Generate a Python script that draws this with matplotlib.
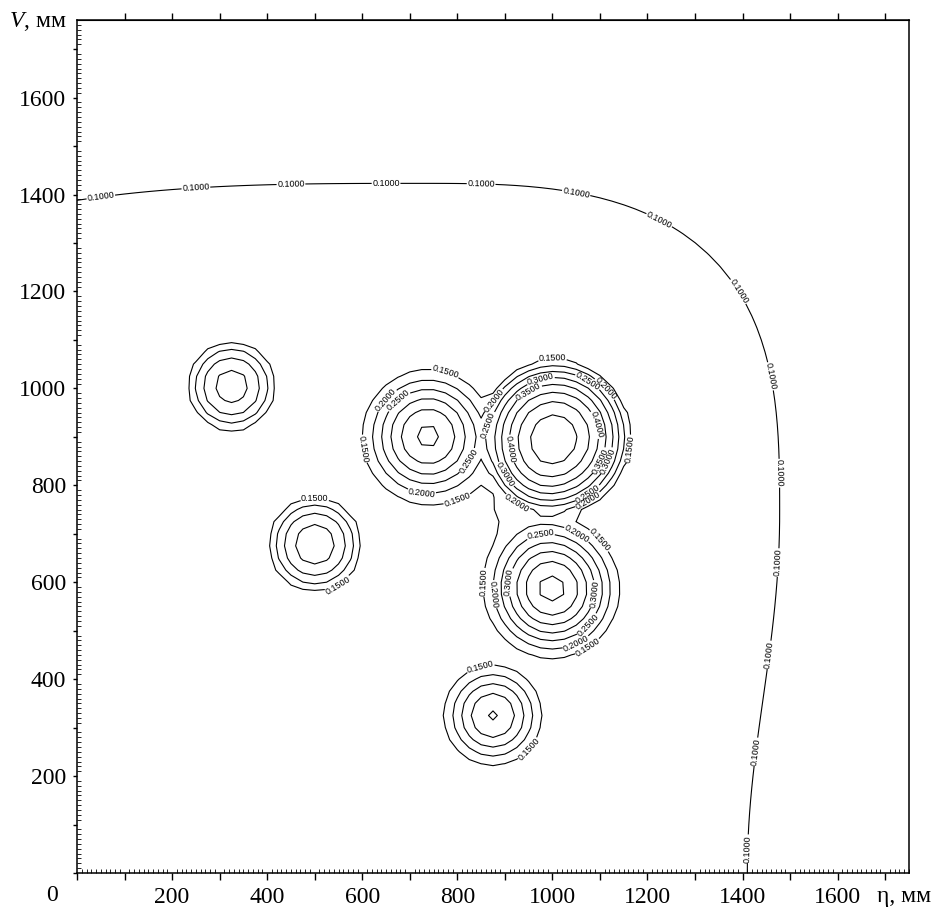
import numpy as np
import matplotlib
matplotlib.use("Agg")
import matplotlib.pyplot as plt

plt.rcParams['font.family'] = ['Liberation Serif', 'DejaVu Serif']
plt.rcParams['mathtext.fontset'] = 'custom'
plt.rcParams['mathtext.it'] = 'Liberation Serif:italic'
plt.rcParams['mathtext.rm'] = 'Liberation Serif'

# sources (peaks)
peak_x = [325, 500, 738, 1005, 1000, 875]
peak_y = [1005, 678, 902, 900, 585, 325]
peak_amp = [0.215, 0.22, 0.297, 0.42, 0.353, 0.244]
peak_radius = [100, 104, 170, 166, 173, 132]
peak_power = [1, 1, 2, 1, 2, 2]

# low shoulder joining the three central sources
shoulder_x, shoulder_y = 935, 755
shoulder_amp, shoulder_width = 0.045, 110

# outer plateau, edge at the 0.1 line
edge_cx, edge_cy = 720, 742
edge_left, edge_right, edge_top = 1366, 758, 681
edge_bottom = 0.414
plateau_base, plateau_rise = 0.10, 0.02

levels = [0.10, 0.15, 0.20, 0.25, 0.30, 0.35, 0.40, 0.45, 0.50]
x_ticks = list(range(0, 1701, 100))
y_ticks = list(range(0, 1701, 100))

# measuring grid
step = 25
xs = np.arange(0, 1751, step)
ys = np.arange(0, 1751, step)
X, Y = np.meshgrid(xs, ys)

u = np.where(X < edge_cx, (edge_cx - X) / edge_left, (X - edge_cx) / edge_right)
v_top = np.abs(Y - edge_cy) / edge_top
v_bot = edge_bottom * np.sin(np.pi / 2 * (edge_cy - Y) / edge_cy)
R = np.where(Y >= edge_cy, (u**3 + v_top**3) ** (1 / 3), np.sqrt(u**2 + v_bot**2))
Z = plateau_base + plateau_rise * (1 - R)
Z += shoulder_amp * np.exp(-((X - shoulder_x)**2 + (Y - shoulder_y)**2) / shoulder_width**2)

sq = np.zeros_like(Z, dtype=float)
for px, py, a, s, q in zip(peak_x, peak_y, peak_amp, peak_radius, peak_power):
    r = np.hypot(X - px, Y - py)
    sq += (a * np.clip(1 - (r / s) ** 2, 0, None) ** q) ** 2
Z = Z + np.sqrt(sq)

fig = plt.figure(figsize=(9.43, 9.11), dpi=100)
ax = fig.add_axes([0.0817, 0.0417, 0.8822, 0.9363])
ax.set_xlim(0, 1750)
ax.set_ylim(0, 1760)

cs = ax.contour(X, Y, Z, levels=levels, colors='k', linewidths=0.8)

fmt = lambda v: f"{v:.4f}"
lab_font = 6.5


def label_points(path, spacing, offset, min_len):
    pts = []
    for poly in path.to_polygons(closed_only=False):
        disp = ax.transData.transform(poly)
        seg = np.hypot(*np.diff(disp, axis=0).T)
        dist = np.concatenate([[0], np.cumsum(seg)])
        if dist[-1] < min_len:
            continue
        for d in np.arange(offset, dist[-1] - 15, spacing):
            i = min(np.searchsorted(dist, d), len(poly) - 1)
            pts.append(tuple(poly[i]))
    return pts


manual = []
for k, lev in enumerate(cs.levels):
    if k == 0:
        manual += label_points(cs.get_paths()[k], 95, 20, 0)
    else:
        manual += label_points(cs.get_paths()[k], 130, 25 + 12 * k, 276)
ax.clabel(cs, manual=manual, fmt=fmt, fontsize=lab_font,
          inline=True, inline_spacing=2)
for t in ax.texts:
    t.set_fontfamily('Liberation Sans')

# ticks
ax.set_xticks(x_ticks)
ax.set_xticklabels(['' if v % 200 or v == 0 else str(v) for v in x_ticks])
ax.set_yticks(y_ticks)
ax.set_yticklabels(['' if v % 200 or v == 0 else str(v) for v in y_ticks])
ax.set_xticks(np.arange(0, 1751, 10), minor=True)
ax.set_yticks(np.arange(0, 1761, 10), minor=True)
ax.tick_params(axis='both', which='major', direction='out', length=5,
               width=1, labelsize=17, top=False, right=False)
ax.tick_params(axis='x', which='major', pad=5)
ax.tick_params(axis='y', which='major', length=3, pad=5)
ax.tick_params(axis='both', which='minor', direction='in', length=3,
               width=0.6, top=False, right=False)

top = ax.secondary_xaxis('top')
top.set_xticks(x_ticks[1:])
top.set_xticklabels([])
top.tick_params(direction='out', length=5, width=1)

for sp in ax.spines.values():
    sp.set_linewidth(1.1)

ax.text(-0.030, -0.026, '0', transform=ax.transAxes, fontsize=17,
        ha='center', va='center')
ax.text(-0.013, 0.998, r'$V$, мм', transform=ax.transAxes, fontsize=17,
        ha='right', va='center')
ax.text(0.962, -0.028, 'η, мм', transform=ax.transAxes, fontsize=17,
        ha='left', va='center')

fig.savefig('out.png', dpi=100)
